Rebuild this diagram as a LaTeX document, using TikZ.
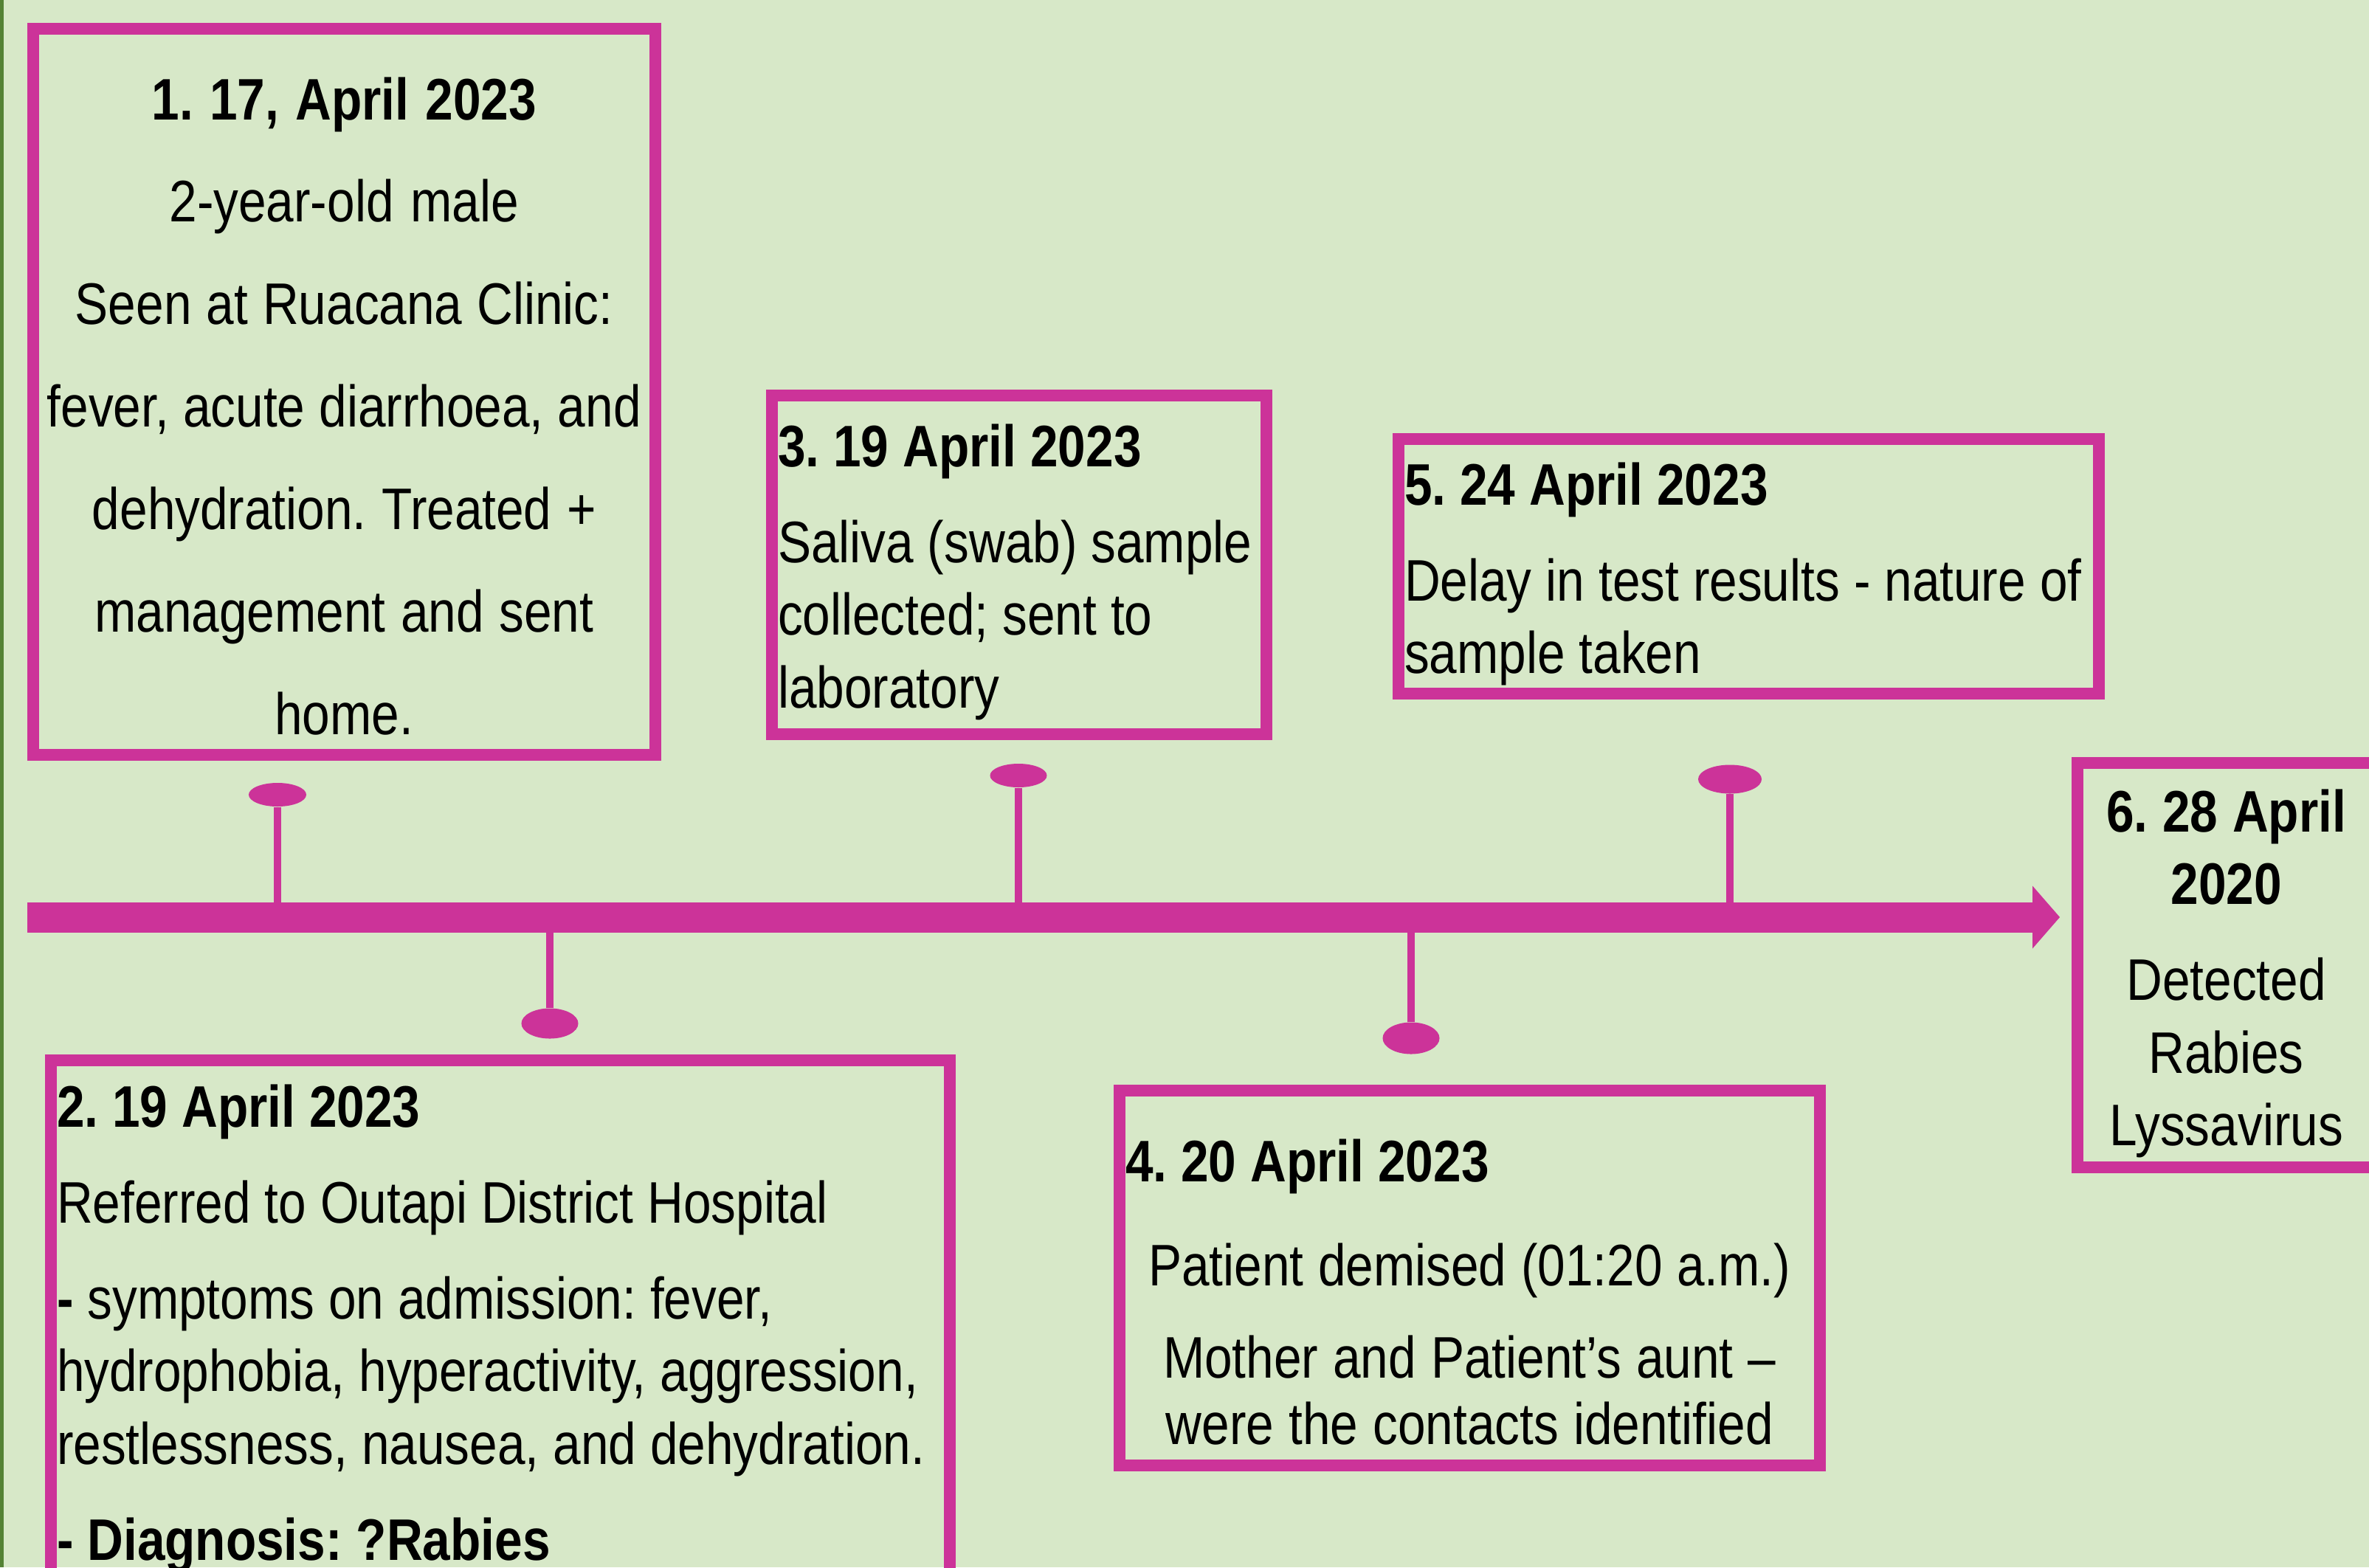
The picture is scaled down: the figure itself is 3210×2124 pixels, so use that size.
\documentclass[tikz,border=0pt]{standalone}
\usepackage{fontspec}
\setmainfont{Liberation Sans}[FakeStretch=0.85]
\usetikzlibrary{arrows.meta,shapes.geometric,positioning}
\frenchspacing
\hyphenpenalty=10000
\exhyphenpenalty=10000

\definecolor{bggreen}{HTML}{D7E8C8}
\definecolor{edgegreen}{HTML}{548235}
\definecolor{tlpink}{HTML}{CC3399}

\tikzset{
  event/.style={draw=tlpink,line width=0.16cm,anchor=north west,inner xsep=0.08cm,inner ysep=0pt,
    font=\fontsize{22.6}{28}\selectfont,
    execute at begin node={\spaceskip 5.4pt plus 1pt minus 0.6pt\relax}},
  pin/.style={ellipse,fill=tlpink,inner sep=0pt},
  stem/.style={draw=tlpink,line width=0.1cm},
  timeline/.style={draw=tlpink,line width=0.41cm,-{Triangle[length=0.37cm,width=0.85cm,line width=0pt]}}
}

\begin{document}
\begin{tikzpicture}[x=0.01cm,y=-0.01cm]
\useasboundingbox (0,0) rectangle (3210,2124);
\clip (0,0) rectangle (3210,2124);
\fill[bggreen] (0,0) rectangle (3210,2124);
\fill[edgegreen] (0,0) rectangle (5,2124);

% time axis
\coordinate (tlStart) at (37,1243);
\coordinate (tlEnd) at (2791,1243);

% events
\node[event,minimum width=8.42cm,text width=8.26cm,text height=1.23cm,text depth=8.60cm,align=center,
  font=\fontsize{22.6}{39.5}\selectfont] (ev1) at (37,31)
  {\textbf{1. 17, April 2023}\\
   2-year-old male\\
   Seen at Ruacana Clinic:\\
   fever, acute diarrhoea, and\\
   dehydration. Treated +\\
   management and sent\\
   home.};
\node[event,minimum width=12.17cm,text width=12.01cm,text height=0.90cm,text depth=6.23cm,align=left] (ev2) at (61,1429)
  {\textbf{2. 19 April 2023}\\[9pt]
   Referred to Outapi District Hospital\\[9pt]
   \textbf{-} symptoms on admission: fever,\\
   hydrophobia, hyperactivity, aggression,\\
   restlessness, nausea, and dehydration.\\[9pt]
   \textbf{- Diagnosis: ?Rabies}};
\node[event,minimum width=6.70cm,text width=6.54cm,text height=0.96cm,text depth=3.63cm,align=left] (ev3) at (1038,528)
  {\textbf{3. 19 April 2023}\\[9pt]
   Saliva (swab) sample\\
   collected; sent to\\
   laboratory};
\node[event,minimum width=9.48cm,text width=9.32cm,text height=1.23cm,text depth=3.85cm,align=center,
  font=\fontsize{22.6}{25.6}\selectfont] (ev4) at (1509,1470)
  {\hbox to \linewidth{\textbf{4. 20 April 2023}\hfil}\\[14.5pt]
   Patient demised (01:20 a.m.)\\[10pt]
   Mother and Patient’s aunt –\\
   were the contacts identified};
\node[event,minimum width=9.48cm,text width=9.32cm,text height=0.89cm,text depth=2.56cm,align=left] (ev5) at (1887,587)
  {\textbf{5. 24 April 2023}\\[9pt]
   Delay in test results - nature of\\
   sample taken};
\node[event,minimum width=4.03cm,text width=3.87cm,text height=0.93cm,text depth=4.55cm,align=center] (ev6) at (2807,1026)
  {\textbf{6. 28 April}\\
   \textbf{2020}\\[9pt]
   Detected\\
   Rabies\\
   Lyssavirus};

% pins
\node[pin,minimum width=0.78cm,minimum height=0.32cm] (pin1) at (376,1077) {};
\node[pin,minimum width=0.77cm,minimum height=0.41cm] (pin2) at (745,1387) {};
\node[pin,minimum width=0.77cm,minimum height=0.32cm] (pin3) at (1380,1051) {};
\node[pin,minimum width=0.77cm,minimum height=0.43cm] (pin4) at (1912,1407) {};
\node[pin,minimum width=0.86cm,minimum height=0.39cm] (pin5) at (2344,1056) {};
\foreach \p in {pin1,pin2,pin3,pin4,pin5}
  \draw[stem] (\p) -- (\p |- tlStart);

\draw[timeline] (tlStart) -- (tlEnd);
\end{tikzpicture}
\end{document}
